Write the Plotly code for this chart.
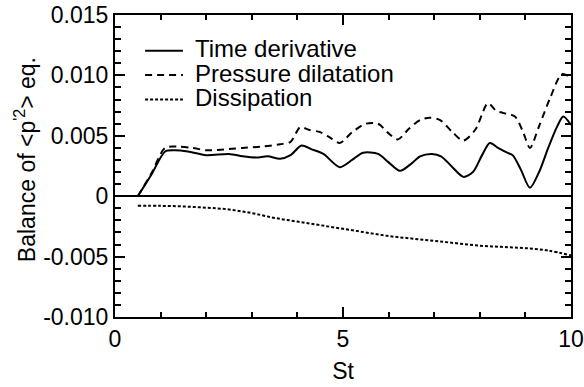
import plotly.graph_objects as go

# Time derivative (solid)
td_x = [0.5, 0.8, 1.1, 1.3, 1.6, 2.0, 2.5, 2.8, 3.1, 3.35, 3.62, 3.85, 4.09, 4.3, 4.57, 4.93, 5.2, 5.44, 5.77, 6.0, 6.25, 6.5, 6.69, 6.95, 7.15, 7.4, 7.64, 7.85, 8.05, 8.22, 8.4, 8.6, 8.72, 8.9, 9.1, 9.3, 9.5, 9.7, 9.83, 10.0]
td_y = [0.0, 0.0018, 0.0037, 0.0038, 0.0037, 0.0034, 0.0035, 0.0033, 0.0032, 0.0033, 0.0031, 0.0034, 0.0042, 0.0039, 0.0035, 0.0024, 0.0030, 0.0036, 0.0035, 0.0028, 0.0021, 0.0027, 0.0033, 0.0035, 0.0033, 0.0024, 0.0016, 0.0020, 0.0034, 0.0044, 0.0040, 0.0036, 0.0034, 0.0022, 0.0007, 0.0020, 0.0040, 0.0058, 0.0066, 0.0059]

# Pressure dilatation (dashed)
pd_x = [0.5, 0.8, 1.1, 1.4, 1.7, 2.0, 2.5, 2.8, 3.2, 3.62, 3.85, 4.06, 4.25, 4.5, 4.7, 4.93, 5.2, 5.5, 5.77, 6.0, 6.2, 6.45, 6.69, 6.9, 7.13, 7.4, 7.64, 7.9, 8.18, 8.35, 8.5, 8.77, 8.95, 9.1, 9.3, 9.55, 9.8, 10.0]
pd_y = [0.0, 0.0019, 0.0040, 0.0041, 0.0040, 0.0038, 0.0039, 0.0040, 0.0041, 0.0043, 0.0045, 0.0057, 0.0055, 0.0053, 0.0049, 0.0044, 0.0053, 0.0060, 0.0060, 0.0052, 0.0047, 0.0056, 0.0063, 0.0065, 0.0063, 0.0053, 0.0046, 0.0055, 0.0077, 0.0071, 0.0069, 0.0066, 0.0053, 0.0040, 0.0058, 0.0082, 0.0101, 0.0098]

# Dissipation (dotted)
di_x = [0.5, 1.0, 1.5, 2.0, 2.5, 3.0, 3.5, 4.0, 4.5, 5.0, 5.5, 6.0, 6.5, 7.0, 7.5, 8.0, 8.5, 9.0, 9.5, 10.0]
di_y = [-0.0008, -0.0008, -0.00085, -0.00095, -0.0011, -0.0014, -0.0018, -0.0021, -0.0024, -0.0027, -0.0030, -0.0033, -0.0035, -0.0037, -0.0039, -0.0041, -0.0042, -0.0043, -0.0045, -0.0049]

series_names = ["Time derivative", "Pressure dilatation", "Dissipation"]
series_dash = ["solid", "7px,5px", "3px,2px"]

x_tickvals = [0, 5, 10]
x_ticktext = ["0", "5", "10"]
y_tickvals = [0.015, 0.010, 0.005, 0, -0.005, -0.010]
y_ticktext = ["0.015", "0.010", "0.005", "0", "-0.005", "-0.010"]

font = "Liberation Sans, Arial, Helvetica, sans-serif"

fig = go.Figure()
for xs, ys, name, dash, smooth in [(td_x, td_y, series_names[0], series_dash[0], 0.8),
                                   (pd_x, pd_y, series_names[1], series_dash[1], 0.8),
                                   (di_x, di_y, series_names[2], series_dash[2], 1.0)]:
    fig.add_trace(go.Scatter(x=xs, y=ys, mode="lines", name=name, showlegend=False,
                             line=dict(color="black", width=2, dash=dash,
                                       shape="spline", smoothing=smooth)))

# Manual legend (compact row spacing as in the reference)
leg_rows = [0.882, 0.801, 0.72]
for i, name in enumerate(series_names):
    fig.add_shape(type="line", xref="paper", yref="paper",
                  x0=0.066, x1=0.149, y0=leg_rows[i], y1=leg_rows[i],
                  line=dict(color="black", width=2, dash=series_dash[i]))
    fig.add_annotation(xref="paper", yref="paper", x=0.172, y=leg_rows[i] + 0.006,
                       xanchor="left", yanchor="middle", showarrow=False,
                       text=name, font=dict(size=24, family=font, color="black"))

# y-axis title (placed slightly above centre as in the reference)
fig.add_annotation(xref="paper", yref="paper", x=-0.197, y=0.52,
                   xanchor="center", yanchor="middle", showarrow=False, textangle=-90,
                   text="Balance of &lt;p<sup>'2</sup>&gt; eq.",
                   font=dict(size=23, family=font, color="black"))

fig.update_layout(
    width=584, height=387,
    margin=dict(l=115, r=13, t=15, b=70, autoexpand=False),
    paper_bgcolor="white", plot_bgcolor="white",
    font=dict(family=font, size=23, color="black"),
    showlegend=False,
    xaxis=dict(range=[0, 10], showgrid=False, zeroline=False, automargin=False,
               showline=True, linecolor="black", linewidth=2, mirror="allticks",
               ticks="inside", ticklen=10, tickwidth=1.5, tickcolor="black",
               tickvals=x_tickvals, ticktext=x_ticktext,
               minor=dict(dtick=1, ticks="inside", ticklen=5, tickwidth=1.5, tickcolor="black", showgrid=False),
               title=dict(text="St", font=dict(size=23), standoff=12),
               tickfont=dict(size=23)),
    yaxis=dict(range=[-0.010, 0.015], showgrid=False, automargin=False,
               zeroline=True, zerolinecolor="black", zerolinewidth=2,
               showline=True, linecolor="black", linewidth=2, mirror="allticks",
               ticks="inside", ticklen=10, tickwidth=1.5, tickcolor="black",
               tickvals=y_tickvals, ticktext=y_ticktext,
               minor=dict(dtick=0.001, ticks="inside", ticklen=6, tickwidth=1.5, tickcolor="black", showgrid=False),
               tickfont=dict(size=23)),
)

fig.write_html("out.html")
